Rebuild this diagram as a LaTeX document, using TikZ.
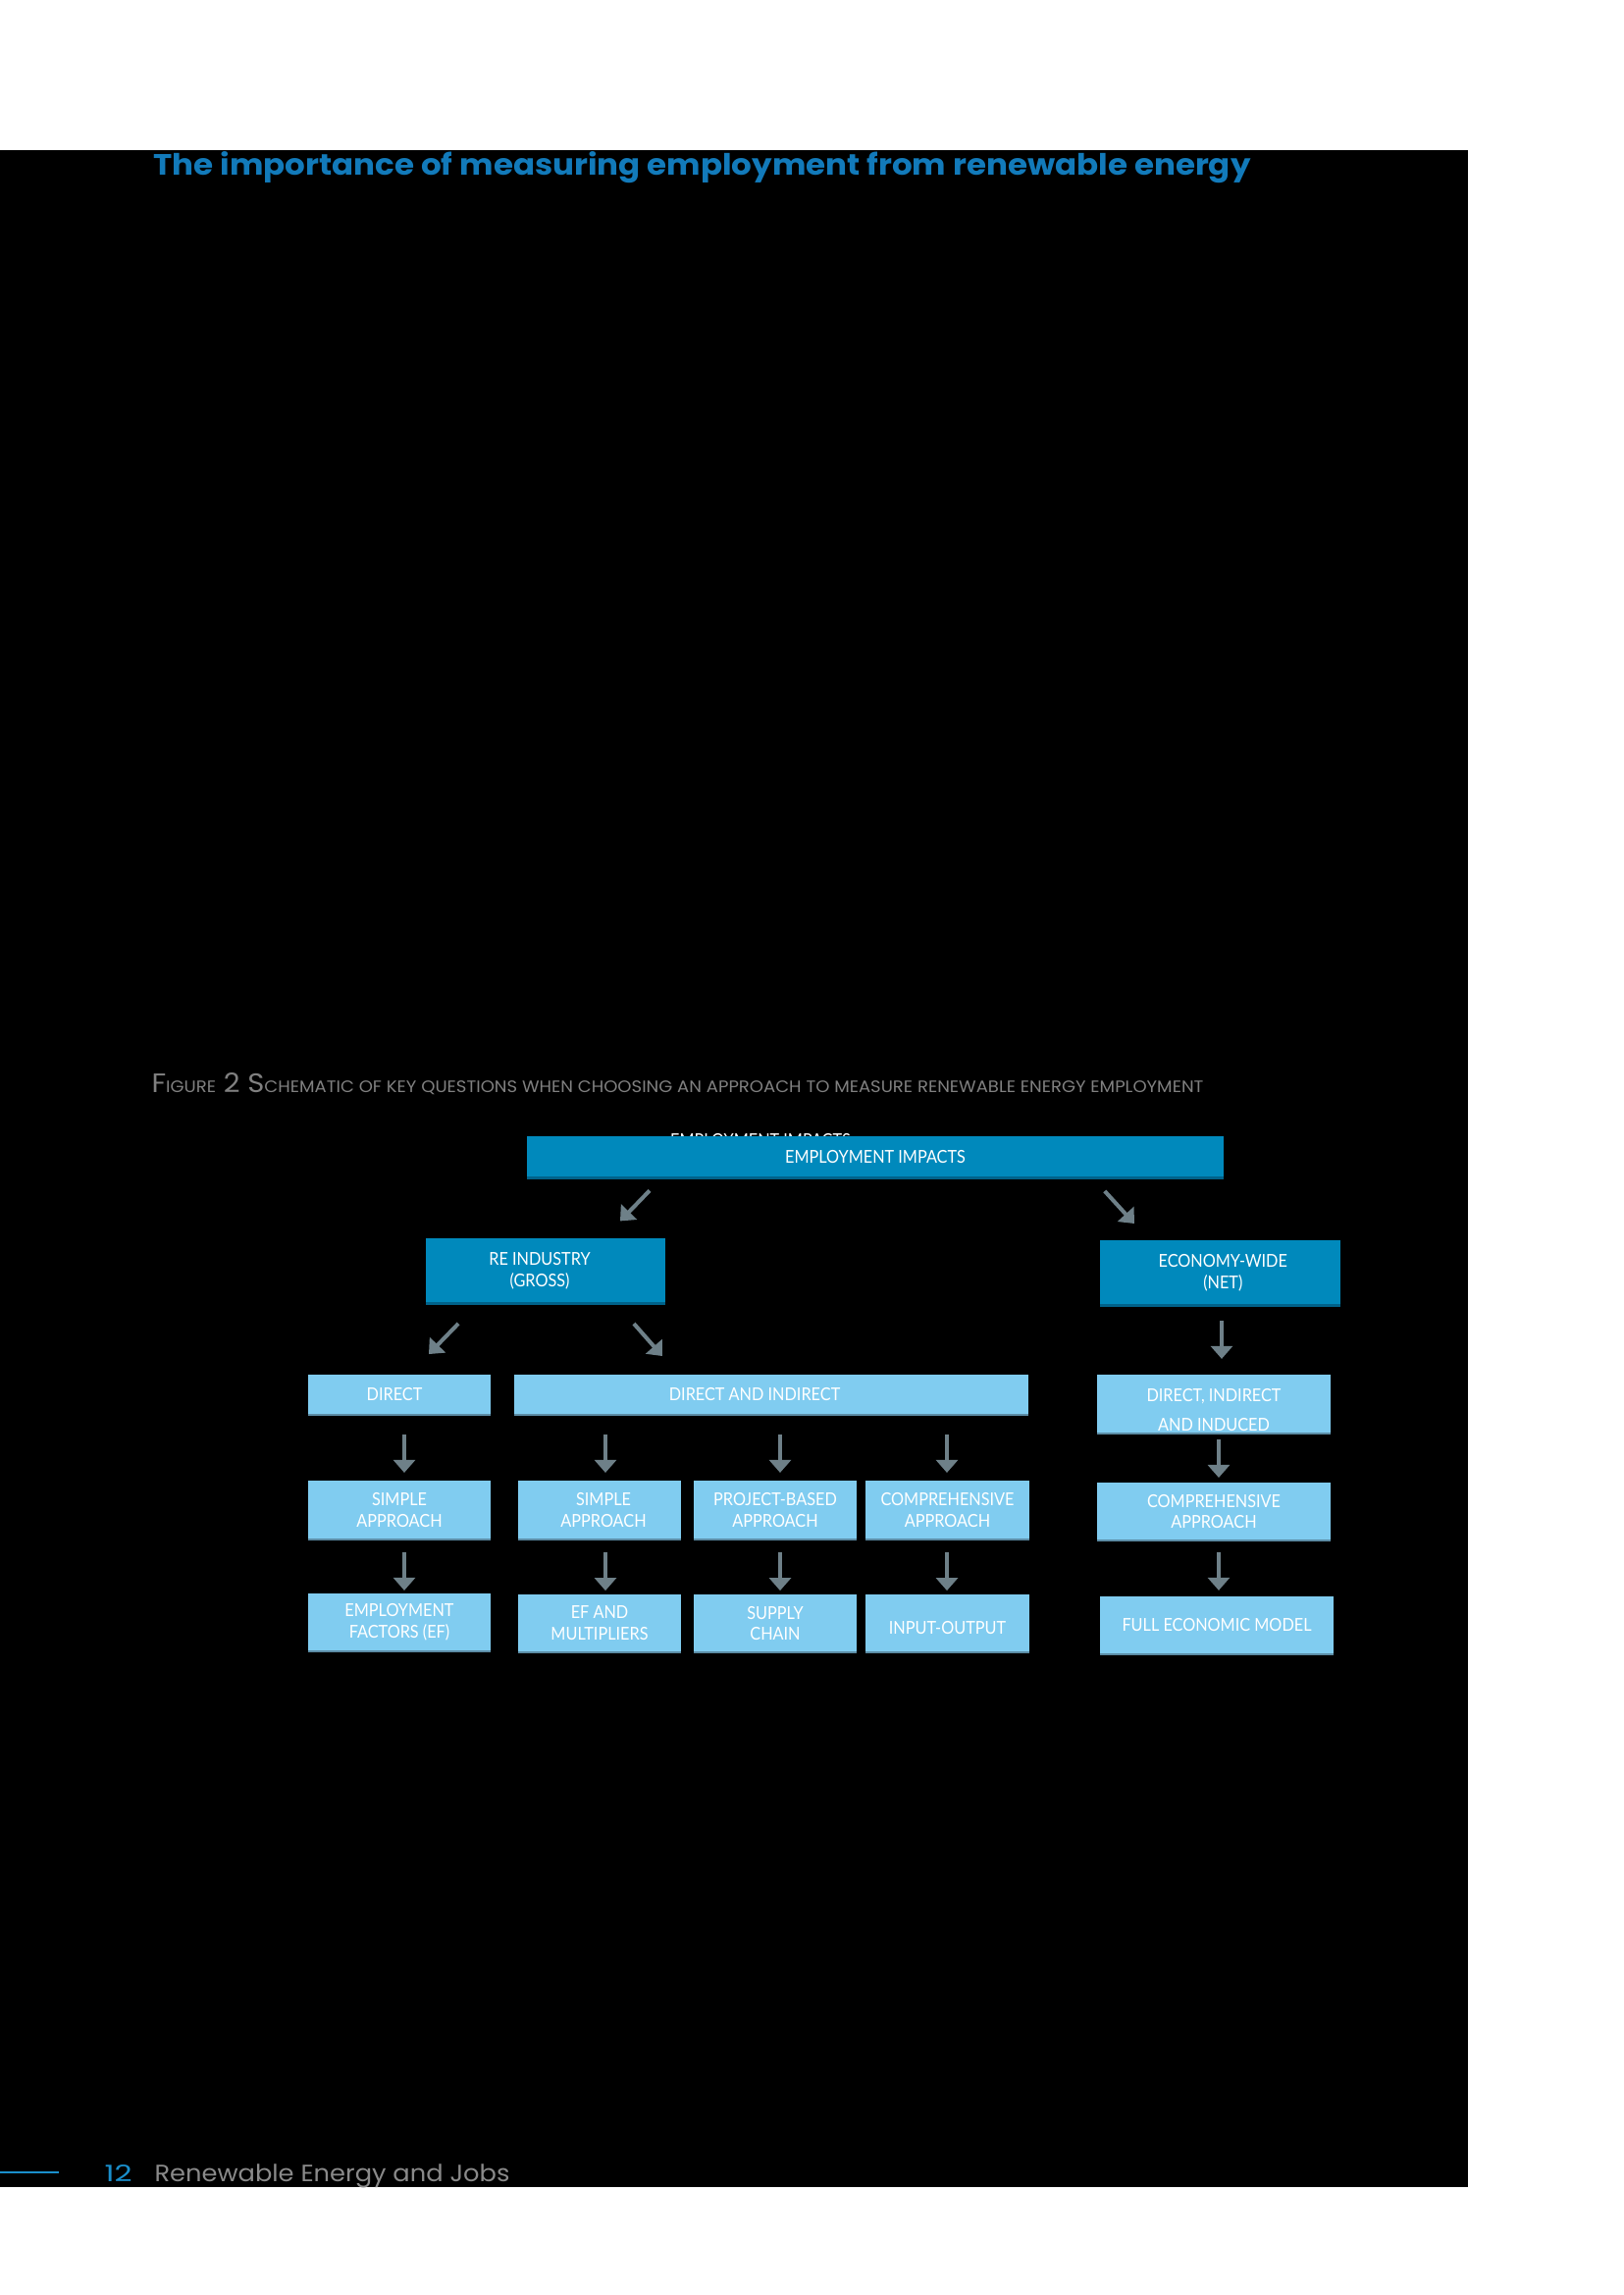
\documentclass[tikz,border=0pt]{standalone}
\usepackage{fontspec}
\setmainfont{Lato}
\newfontfamily\boxfont[FakeStretch=0.9]{Lato}
\newfontfamily\titlefont{Poppins}
\newfontfamily\footfont{Poppins}
\usetikzlibrary{arrows.meta,calc}
\definecolor{titleblue}{RGB}{18,122,186}
\definecolor{darkbox}{RGB}{0,137,188}
\definecolor{darkedge}{RGB}{0,98,138}
\definecolor{lightbox}{RGB}{128,204,240}
\definecolor{lightedge}{RGB}{92,140,165}
\definecolor{arrgray}{RGB}{110,128,136}
\definecolor{capgray}{RGB}{128,128,128}
\definecolor{footgray}{RGB}{138,138,138}
\definecolor{footblue}{RGB}{26,143,204}
\newcommand{\smc}[1]{{\fontsize{6.2}{7}\selectfont #1}}
\begin{document}
\begin{tikzpicture}[x=0.36pt,y=-0.36pt,
  boxtext/.style={font=\boxfont\fontsize{6.5}{7.9}\selectfont, text=white, align=center},
  basebox/.style={boxtext, anchor=north west, inner sep=0pt, outer sep=0pt},
  darkbx/.style={basebox, fill=darkbox, path picture={\draw[darkedge,line width=1.2pt] (path picture bounding box.south west) -- (path picture bounding box.south east);}},
  lightbx/.style={basebox, fill=lightbox, path picture={\draw[lightedge,line width=1.0pt] (path picture bounding box.south west) -- (path picture bounding box.south east);}},
  arr/.style={draw=arrgray, line width=1.45pt, -{Triangle[width=7.9pt,length=4.7pt]}}
]
\useasboundingbox (0,0) rectangle (1654,2339);
\fill[white] (0,0) rectangle (1654,2339);
\fill[black] (0,153) rectangle (1496,2229);

% title
\node[anchor=base west, inner sep=0pt, text=titleblue] (title) at (156,178)
  {\resizebox{402.5pt}{8.64pt}{\titlefont\bfseries The importance of measuring employment from renewable energy}};

% caption
\node[anchor=base west, inner sep=0pt, text=capgray] (caption) at (154,1113)
  {\resizebox{385.9pt}{7.2pt}{\titlefont F\smc{IGURE} 2 S\smc{CHEMATIC OF KEY QUESTIONS WHEN CHOOSING AN APPROACH TO MEASURE RENEWABLE ENERGY EMPLOYMENT}}};

% ghost text behind top box
\node[boxtext, anchor=base, inner sep=0pt] (ghost) at (775,1168) {EMPLOYMENT IMPACTS};

% boxes
\node[darkbx, minimum width=255.6pt, minimum height=15.48pt] (top) at (537,1158) {EMPLOYMENT IMPACTS};
\node[darkbx, minimum width=87.84pt, minimum height=24.12pt] (re) at (434,1262) {RE INDUSTRY\hspace*{4.3pt}\\(GROSS)\hspace*{4.3pt}};
\node[darkbx, minimum width=88.2pt, minimum height=24.12pt] (econ) at (1121,1264) {\hspace*{2pt}ECONOMY-WIDE\\\hspace*{2pt}(NET)};

\node[lightbx, minimum width=66.96pt, minimum height=14.76pt] (direct) at (314,1401) {DIRECT\hspace*{3.6pt}};
\node[lightbx, minimum width=188.64pt, minimum height=14.76pt] (dai) at (524,1401) {DIRECT AND INDIRECT\hspace*{12.2pt}};
\node[lightbx, minimum width=85.68pt, minimum height=21.6pt] (dii) at (1118,1401) {\rule{0pt}{9pt}DIRECT, INDIRECT\\[2.6pt]AND INDUCED};

\node[lightbx, minimum width=66.96pt, minimum height=21.6pt] (s1) at (314,1509) {SIMPLE\\APPROACH};
\node[lightbx, minimum width=59.76pt, minimum height=21.6pt] (s2) at (528,1509) {\hspace*{2.9pt}SIMPLE\\\hspace*{2.9pt}APPROACH};
\node[lightbx, minimum width=59.76pt, minimum height=21.6pt] (pb) at (707,1509) {PROJECT-BASED\\APPROACH};
\node[lightbx, minimum width=60.12pt, minimum height=21.6pt] (cp) at (882,1509) {COMPREHENSIVE\\APPROACH};
\node[lightbx, minimum width=85.68pt, minimum height=21.24pt] (ecp) at (1118,1511) {COMPREHENSIVE\\APPROACH};

\node[lightbx, minimum width=66.96pt, minimum height=21.24pt] (ef) at (314,1624) {EMPLOYMENT\\FACTORS (EF)};
\node[lightbx, minimum width=59.76pt, minimum height=21.24pt] (efm) at (528,1625) {EF AND\\MULTIPLIERS};
\node[lightbx, minimum width=59.76pt, minimum height=21.24pt] (sc) at (707,1625) {SUPPLY\\CHAIN};
\node[lightbx, minimum width=60.12pt, minimum height=21.24pt] (io) at (882,1625) {\rule{0pt}{7.6pt}INPUT-OUTPUT};
\node[lightbx, minimum width=85.68pt, minimum height=21.24pt] (fem) at (1121,1627) {FULL ECONOMIC MODEL};

% column coordinates
\coordinate (k1) at (412,0);
\coordinate (k2) at (617,0);
\coordinate (k3) at (795,0);
\coordinate (k4) at (965,0);
\coordinate (k5) at (1245,0);
\coordinate (k6) at (1242,0);
\coordinate (d1a) at (674,0);   \coordinate (d1b) at (615,0);
\coordinate (d2a) at (1114,0);  \coordinate (d2b) at (1171.5,0);
\coordinate (d3a) at (486.4,0); \coordinate (d3b) at (416.7,0);
\coordinate (d4a) at (628.4,0); \coordinate (d4b) at (691.7,0);

% arrows
\draw[arr, shorten <=6.2pt, shorten >=8.8pt] (top.south -| d1a) -- (re.north -| d1b);
\draw[arr, shorten <=6.3pt, shorten >=8.3pt] (top.south -| d2a) -- (econ.north -| d2b);
\draw[arr, shorten <=10pt, shorten >=10.5pt] (re.south -| d3a) -- (direct.north -| d3b);
\draw[arr, shorten <=9.6pt, shorten >=9.1pt] (re.south -| d4a) -- (dai.north -| d4b);
\draw[arr, shorten <=5.4pt, shorten >=5.8pt] (econ.south -| k5) -- (dii.north -| k5);

\draw[arr, shorten <=7.2pt, shorten >=2.9pt] (direct.south -| k1) -- (s1.north -| k1);
\draw[arr, shorten <=7.2pt, shorten >=2.9pt] (dai.south -| k2) -- (s2.north -| k2);
\draw[arr, shorten <=7.2pt, shorten >=2.9pt] (dai.south -| k3) -- (pb.north -| k3);
\draw[arr, shorten <=7.2pt, shorten >=2.9pt] (dai.south -| k4) -- (cp.north -| k4);
\draw[arr, shorten <=2.2pt, shorten >=1.8pt] (dii.south -| k6) -- (ecp.north -| k6);

\draw[arr, shorten <=4.7pt, shorten >=1.1pt] (s1.south -| k1) -- (ef.north -| k1);
\draw[arr, shorten <=4.7pt, shorten >=1.4pt] (s2.south -| k2) -- (efm.north -| k2);
\draw[arr, shorten <=4.7pt, shorten >=1.4pt] (pb.south -| k3) -- (sc.north -| k3);
\draw[arr, shorten <=4.7pt, shorten >=1.4pt] (cp.south -| k4) -- (io.north -| k4);
\draw[arr, shorten <=4.3pt, shorten >=2.2pt] (ecp.south -| k6) -- (fem.north -| k6);

% footer
\draw[footblue, line width=0.65pt] (0,2214) -- (60,2214);
\node[anchor=base west, inner sep=0pt, text=footblue] (pagenum) at (106,2223)
  {\resizebox{10.1pt}{6.12pt}{\footfont 12}};
\node[anchor=base west, inner sep=0pt, text=footgray] (foottext) at (157,2223)
  {\resizebox{130.3pt}{6.4pt}{\footfont Renewable Energy and Jobs}};
\end{tikzpicture}
\end{document}
